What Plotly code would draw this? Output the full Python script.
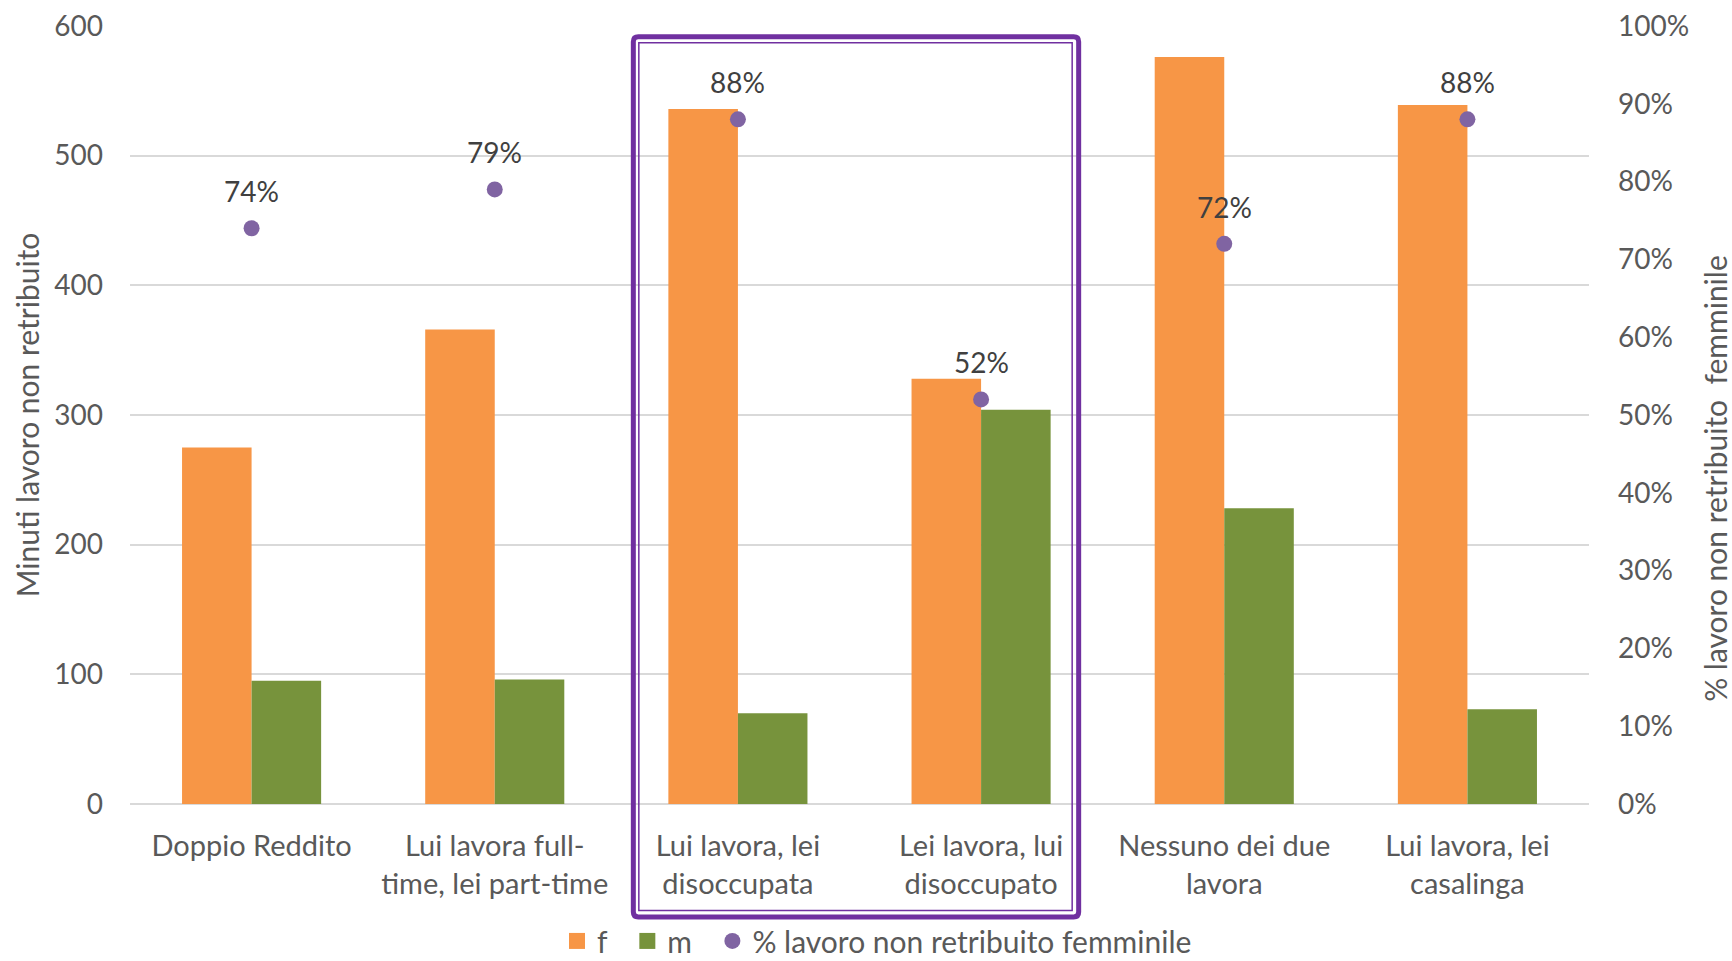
import plotly.graph_objects as go
from plotly.subplots import make_subplots

# ---- data ----
categories = [
    "Doppio Reddito",
    "Lui lavora full-<br>time, lei part-time",
    "Lui lavora, lei<br>disoccupata",
    "Lei lavora, lui<br>disoccupato",
    "Nessuno dei due<br>lavora",
    "Lui lavora, lei<br>casalinga",
]
minutes_f = [275, 366, 536, 328, 576, 539]
minutes_m = [95, 96, 70, 304, 228, 73]
pct_female = [0.74, 0.79, 0.88, 0.52, 0.72, 0.88]
pct_labels = ["74%", "79%", "88%", "52%", "72%", "88%"]
highlight = ["Lui lavora, lei<br>disoccupata", "Lei lavora, lui<br>disoccupato"]
series_names = ["f", "m", "% lavoro non retribuito femminile"]

left_ticks = [0, 100, 200, 300, 400, 500, 600]
right_ticks = [i / 10 for i in range(11)]

# ---- style ----
FONT = "Lato"
TXT = "#595959"
ORANGE = "#F79646"
GREEN = "#77933C"
PURPLE_DOT = "#8064A2"
BOX = "#7030A0"
GRID = "#D9D9D9"
PAD = "\u00a0" * 2  # extra spacing after short legend names

fig = make_subplots(specs=[[{"secondary_y": True}]])

fig.add_trace(go.Bar(x=categories, y=minutes_f, name=series_names[0], marker_color=ORANGE,
                     marker_line_width=0, showlegend=False), secondary_y=False)
fig.add_trace(go.Bar(x=categories, y=minutes_m, name=series_names[1], marker_color=GREEN,
                     marker_line_width=0, showlegend=False), secondary_y=False)
fig.add_trace(go.Scatter(x=categories, y=pct_female, name=series_names[2],
                         mode="markers", marker=dict(color=PURPLE_DOT, size=16),
                         showlegend=False),
              secondary_y=True)

# legend entries (larger square swatches like the reference)
fig.add_trace(go.Scatter(x=[None], y=[None], name=series_names[0] + PAD, mode="markers",
                         marker=dict(symbol="square", color=ORANGE, size=17)))
fig.add_trace(go.Scatter(x=[None], y=[None], name=series_names[1] + PAD, mode="markers",
                         marker=dict(symbol="square", color=GREEN, size=17)))
fig.add_trace(go.Scatter(x=[None], y=[None], name=series_names[2],
                         mode="markers", marker=dict(symbol="circle", color=PURPLE_DOT, size=16)))

for c, p, t in zip(categories, pct_female, pct_labels):
    fig.add_annotation(x=c, y=p, xref="x", yref="y2", text=t, showarrow=False,
                       yshift=37, font=dict(family=FONT, size=28, color="#404040"))

# right axis title (placed as in the reference, below the vertical centre)
fig.add_annotation(x=1.0864, y=0.418, xref="paper", yref="paper",
                   text="% lavoro non retribuito  femminile", textangle=-90,
                   showarrow=False, xanchor="center", yanchor="middle",
                   font=dict(family=FONT, size=30, color=TXT))

# highlight box around two categories (double frame)
i0 = categories.index(highlight[0])
i1 = categories.index(highlight[-1])
PLOT_W = 1459.0
PLOT_H = 778.6
cat_px = PLOT_W / len(categories)


def rounded_path(xa, xb, ya, yb, r_px):
    rx = r_px / cat_px
    ry = r_px / PLOT_H
    return (f"M {xa+rx},{ya} L {xb-rx},{ya} Q {xb},{ya} {xb},{ya-ry} "
            f"L {xb},{yb+ry} Q {xb},{yb} {xb-rx},{yb} L {xa+rx},{yb} "
            f"Q {xa},{yb} {xa},{yb+ry} L {xa},{ya-ry} Q {xa},{ya} {xa+rx},{ya} Z")


def px_x(px):
    return px / cat_px


def px_y(px):
    return px / PLOT_H


# outer thick frame
fig.add_shape(type="path", xref="x", yref="paper",
              path=rounded_path(i0 - 0.5 + px_x(17), i1 + 0.5 - px_x(24),
                                1 + px_y(-10.8), px_y(-113.2), 5),
              line=dict(color=BOX, width=5), fillcolor="rgba(0,0,0,0)", layer="above")
# inner thin frame
fig.add_shape(type="rect", xref="x", yref="paper",
              x0=i0 - 0.5 + px_x(22.5), x1=i1 + 0.5 - px_x(30.5),
              y0=1 + px_y(-16.8), y1=px_y(-106.7),
              line=dict(color=BOX, width=1.5), fillcolor="rgba(0,0,0,0)", layer="above")

fig.update_layout(
    width=1732, height=961,
    margin=dict(l=130, r=143, t=26, b=157, autoexpand=False),
    paper_bgcolor="white", plot_bgcolor="white",
    barmode="group", bargap=0.428, bargroupgap=0,
    font=dict(family=FONT, color=TXT, size=29),
    showlegend=True,
    legend=dict(orientation="h", x=0.512, xanchor="center", y=-0.176, yanchor="middle",
                font=dict(family=FONT, size=30, color=TXT), itemwidth=30,
                traceorder="normal", bgcolor="rgba(0,0,0,0)"),
)

fig.update_xaxes(domain=[0, 1], showgrid=False, showline=False, ticks="",
                 tickfont=dict(family=FONT, size=29, color=TXT), ticklabelstandoff=22)
fig.update_yaxes(range=[0, 600], tickvals=left_ticks, showgrid=True, gridcolor=GRID,
                 gridwidth=1.5, zeroline=True, zerolinecolor=GRID, zerolinewidth=1.5,
                 showline=False, ticks="", tickfont=dict(family=FONT, size=28, color=TXT),
                 ticklabelstandoff=26,
                 title=dict(text="Minuti lavoro non retribuito",
                            font=dict(family=FONT, size=30, color=TXT), standoff=5),
                 secondary_y=False)
fig.update_yaxes(range=[0, 1], tickvals=right_ticks, tickformat=".0%", showgrid=False,
                 zeroline=False, showline=False, ticks="",
                 tickfont=dict(family=FONT, size=28, color=TXT), ticklabelstandoff=28,
                 secondary_y=True)

fig.write_html("out.html", config={"displayModeBar": False},
               post_script="document.body.style.margin='0';document.body.style.overflow='hidden';")
